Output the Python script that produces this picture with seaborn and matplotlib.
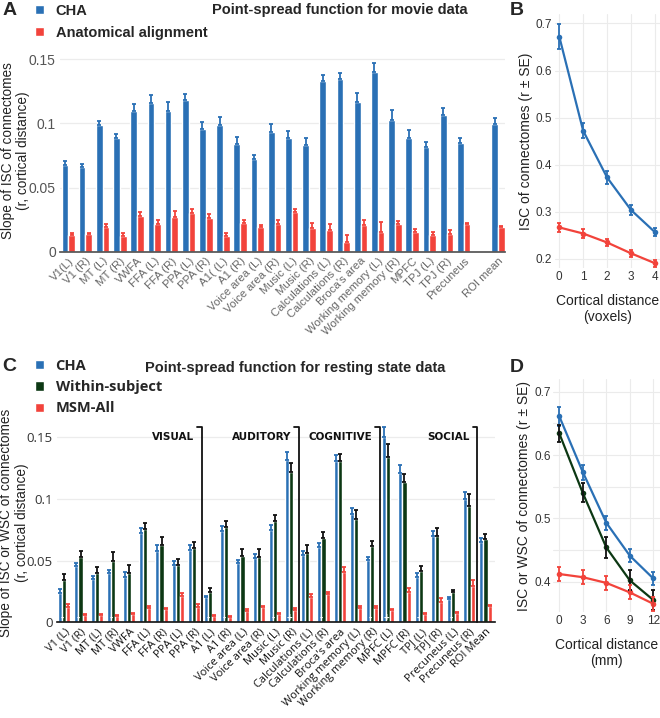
import numpy as np
import pandas as pd
import matplotlib
matplotlib.use("Agg")
import matplotlib.pyplot as plt
import seaborn as sns

# ---- panel A: point-spread slopes, movie data ----
movie_rois = ["V1(L)", "V1 (R)", "MT (L)", "MT (R)", "VWFA", "FFA (L)", "FFA (R)",
              "PPA (L)", "PPA (R)", "A1( (L)", "A1 (R)", "Voice area (L)", "Voice area (R)",
              "Music (L)", "Music (R)", "Calculations (L)", "Calculations (R)", "Broca's area",
              "Working memory (L)", "Working memory (R)", "MPFC", "TPJ (L)", "TPJ (R)",
              "Precuneus", "ROI mean"]
movie_cha = [0.0675, 0.066, 0.0985, 0.0886, 0.110, 0.116, 0.110, 0.118, 0.096, 0.099,
             0.084, 0.072, 0.093, 0.089, 0.083, 0.133, 0.135, 0.117, 0.140, 0.1026,
             0.0885, 0.082, 0.1065, 0.0844, 0.0992]
movie_cha_se = [0.0029, 0.0026, 0.0036, 0.0029, 0.0052, 0.0062, 0.0070, 0.0049, 0.0049, 0.0062,
                0.0052, 0.0036, 0.0065, 0.0052, 0.0055, 0.0044, 0.0047, 0.0065, 0.0073, 0.0078,
                0.0065, 0.0034, 0.0057, 0.0039, 0.0047]
movie_anat = [0.013, 0.0135, 0.019, 0.012, 0.0278, 0.022, 0.0268, 0.030, 0.0265, 0.012,
              0.0225, 0.019, 0.022, 0.0307, 0.0187, 0.0169, 0.0078, 0.0208, 0.0156, 0.0213,
              0.0156, 0.013, 0.0135, 0.0218, 0.0192]
movie_anat_se = [0.0013, 0.0013, 0.0023, 0.0026, 0.0029, 0.0026, 0.0049, 0.0031, 0.0026, 0.0029,
                 0.0021, 0.0016, 0.0031, 0.0023, 0.0034, 0.0047, 0.0052, 0.0039, 0.0078, 0.0026,
                 0.0023, 0.0026, 0.0031, 0.0008, 0.0010]

# ---- panel B: ISC vs cortical distance, movie data ----
voxel_dist = [0, 1, 2, 3, 4]
movie_isc_cha = [0.672, 0.472, 0.373, 0.304, 0.257]
movie_isc_cha_se = [0.027, 0.016, 0.013, 0.011, 0.008]
movie_isc_anat = [0.267, 0.254, 0.235, 0.212, 0.191]
movie_isc_anat_se = [0.010, 0.009, 0.008, 0.007, 0.007]

# ---- panel C: point-spread slopes, resting state data ----
rest_rois = ["V1 (L)", "V1 (R)", "MT (L)", "MT (R)", "VWFA", "FFA (L)", "FFA (R)",
             "PPA (L)", "PPA (R)", "A1 (L)", "A1 (R)", "Voice area (L)", "Voice area (R)",
             "Music (L)", "Music (R)", "Calculations (L)", "Calculations (R)", "Broca's area",
             "Working memory (L)", "Working memory (R)", "MPFC (L)", "MPFC (R)", "TPJ (L)",
             "TPJ (R)", "Precuneus (L)", "Precuneus (R)", "ROI Mean"]
rest_cha = [0.024, 0.0457, 0.0354, 0.0397, 0.0365, 0.0727, 0.058, 0.0465, 0.0586, 0.0203,
            0.0738, 0.0478, 0.0519, 0.0750, 0.1316, 0.0546, 0.0614, 0.1308, 0.0878, 0.0505,
            0.150, 0.1208, 0.037, 0.0703, 0.0192, 0.0997, 0.0649]
rest_cha_se = [0.0027, 0.0022, 0.0022, 0.0027, 0.0040, 0.0035, 0.0046, 0.0032, 0.0040, 0.0010,
               0.0046, 0.0027, 0.0035, 0.0040, 0.0068, 0.0035, 0.0027, 0.0049, 0.0046, 0.0027,
               0.0086, 0.0068, 0.0027, 0.0038, 0.0010, 0.0062, 0.0032]
rest_within = [0.0343, 0.053, 0.0397, 0.0497, 0.0397, 0.0754, 0.0627, 0.0465, 0.0605, 0.0243,
               0.077, 0.0538, 0.0527, 0.082, 0.122, 0.0565, 0.068, 0.1308, 0.0835, 0.0619,
               0.134, 0.1135, 0.0419, 0.0703, 0.0243, 0.0946, 0.0673]
rest_within_se = [0.0049, 0.0046, 0.0054, 0.0070, 0.0068, 0.0054, 0.0062, 0.0049, 0.0049, 0.0032,
                  0.0054, 0.0057, 0.0068, 0.0049, 0.0068, 0.0062, 0.0049, 0.0054, 0.0076, 0.0040,
                  0.0108, 0.0065, 0.0040, 0.0059, 0.0019, 0.0095, 0.0043]
rest_msm = [0.0127, 0.006, 0.006, 0.0051, 0.007, 0.0114, 0.0105, 0.0214, 0.0127, 0.0051,
            0.0046, 0.0095, 0.0124, 0.0068, 0.010, 0.0203, 0.0227, 0.0411, 0.0119, 0.0114,
            0.010, 0.0243, 0.0065, 0.0168, 0.0078, 0.0297, 0.0135]
rest_msm_se = [0.0019, 0.0008, 0.0008, 0.0008, 0.0008, 0.0019, 0.0013, 0.0022, 0.0019, 0.0008,
               0.0008, 0.0011, 0.0011, 0.0010, 0.0015, 0.0027, 0.0016, 0.0040, 0.0016, 0.0022,
               0.0011, 0.0032, 0.0008, 0.0027, 0.0008, 0.0046, 0.0008]
# white +/- markers at the foot of some bars
sign_rois = ["V1 (L)", "V1 (R)", "MT (R)", "A1 (L)", "A1 (R)", "Music (L)", "Music (R)",
             "Calculations (R)", "Working memory (R)", "MPFC (L)", "TPJ (L)", "Precuneus (L)"]
sign_marks = ["-", "-", "-", "-", "-", "-", "+", "-", "-", "+", "-", "-"]
# network brackets
network_names = ["VISUAL", "AUDITORY", "COGNITIVE", "SOCIAL"]
network_last_roi = ["PPA (R)", "Music (R)", "Working memory (R)", "Precuneus (R)"]

# ---- panel D: ISC/WSC vs cortical distance, resting state ----
mm_dist = [0, 3, 6, 9, 12]
rest_isc_cha = [0.661, 0.573, 0.493, 0.441, 0.405]
rest_isc_cha_se = [0.015, 0.012, 0.011, 0.010, 0.010]
rest_isc_within = [0.634, 0.540, 0.454, 0.402, 0.371]
rest_isc_within_se = [0.014, 0.015, 0.016, 0.016, 0.016]
rest_isc_msm = [0.412, 0.407, 0.398, 0.383, 0.365]
rest_isc_msm_se = [0.011, 0.011, 0.011, 0.011, 0.011]

BLUE = "#2a70b5"
RED = "#f2433b"
GREEN = "#0c3813"

sns.set_theme(style="white")
plt.rcParams["font.family"] = ["Liberation Sans", "DejaVu Sans"]

fig = plt.figure(figsize=(6.6, 7.18), dpi=100)
axA = fig.add_axes([0.0909, 0.6494, 0.6742, 0.2716])
axB = fig.add_axes([0.8409, 0.6262, 0.1586, 0.3542])
axC = fig.add_axes([0.0864, 0.1333, 0.6639, 0.2783])
axD = fig.add_axes([0.8383, 0.1476, 0.1610, 0.3245])


def bar_errors(ax, df, order, hue_order, colors):
    # one-sided (upward) error bars on top of the seaborn bars
    se = df.set_index(["roi", "method"])["se"]
    for cont, hue, col in zip(ax.containers, hue_order, colors):
        xs, ys, es = [], [], []
        for p in cont.patches:
            xc = p.get_x() + p.get_width() / 2
            roi = order[int(round(xc))]
            if (roi, hue) not in se.index:
                continue
            xs.append(xc)
            ys.append(p.get_height())
            es.append(se[(roi, hue)])
        ax.errorbar(xs, ys, yerr=[np.zeros(len(es)), es], fmt="none", ecolor=col,
                    elinewidth=1.3, capsize=1.6, capthick=1.3, zorder=3)


# ---------------- A ----------------
n = len(movie_rois)
movie_df = pd.DataFrame({
    "roi": movie_rois * 2,
    "method": ["CHA"] * n + ["Anatomical alignment"] * n,
    "slope": movie_cha + movie_anat,
    "se": movie_cha_se + movie_anat_se,
})
movie_order = movie_rois[:-1] + [" "] + movie_rois[-1:]
hueA = ["CHA", "Anatomical alignment"]
sns.barplot(data=movie_df, x="roi", y="slope", hue="method", order=movie_order,
            hue_order=hueA, palette=[BLUE, RED], saturation=1, width=0.78,
            errorbar=None, ax=axA)
bar_errors(axA, movie_df, movie_order, hueA, [BLUE, RED])
axA.set_xlim(-0.48, 25.4)
axA.set_ylim(0, 0.152)
axA.set_yticks([0, 0.05, 0.1, 0.15])
axA.set_yticklabels(["0", "0.05", "0.1", "0.15"], fontsize=10, color="#555555")
axA.tick_params(axis="both", length=0, pad=3)
plt.setp(axA.get_xticklabels(), rotation=45, ha="right", rotation_mode="anchor",
         fontsize=8.2, color="#666666")
axA.grid(axis="y", color="#ececec", lw=0.9)
axA.set_axisbelow(True)
sns.despine(ax=axA, left=True)
axA.spines["bottom"].set_color("#555555")
axA.set_xlabel("")
axA.set_ylabel("Slope of ISC of connectomes\n(r, cortical distance)", fontsize=9.8,
               color="#222222", linespacing=1.15)
axA.yaxis.set_label_coords(-0.067, 0.52)
sns.move_legend(axA, "upper left", bbox_to_anchor=(0.04, 1.007), bbox_transform=fig.transFigure,
                frameon=False, title=None, prop={"weight": "bold", "size": 10.5},
                handlelength=0.6, handleheight=0.6, handletextpad=0.8, labelspacing=0.55,
                borderpad=0.1)
fig.text(0.515, 0.986, "Point-spread function for movie data", ha="center", va="center",
         fontsize=10.5, fontweight="bold")

# ---------------- B ----------------
movie_line_df = pd.DataFrame({
    "dist": voxel_dist * 2,
    "isc": movie_isc_cha + movie_isc_anat,
    "se": movie_isc_cha_se + movie_isc_anat_se,
    "method": ["CHA"] * 5 + ["Anatomical alignment"] * 5,
})
sns.lineplot(data=movie_line_df, x="dist", y="isc", hue="method", hue_order=hueA,
             palette=[BLUE, RED], marker="o", markersize=4, markeredgewidth=0,
             linewidth=1.6, errorbar=None, legend=False, ax=axB)
for hue, col in zip(hueA, [BLUE, RED]):
    sub = movie_line_df[movie_line_df["method"] == hue]
    axB.errorbar(sub["dist"], sub["isc"], yerr=sub["se"], fmt="none", ecolor=col,
                 elinewidth=1.3, capsize=1.6, capthick=1.3)
axB.set_xlim(-0.18, 4.2)
axB.set_ylim(0.18, 0.72)
axB.set_xticks(voxel_dist)
axB.set_yticks([0.2, 0.3, 0.4, 0.5, 0.6, 0.7])
axB.set_yticklabels(["0.2", "0.3", "0.4", "0.5", "0.6", "0.7"])
axB.tick_params(axis="both", length=0, pad=2, labelsize=8.5, labelcolor="#333333")
axB.grid(True, color="#ebebeb", lw=0.8)
sns.despine(ax=axB, left=True, bottom=True)
axB.set_xlabel("Cortical distance\n(voxels)", fontsize=10, color="#222222", labelpad=8)
axB.set_ylabel("ISC of connectomes (r \u00b1 SE)", fontsize=10, color="#222222", labelpad=2)

# ---------------- C ----------------
m = len(rest_rois)
hueC = ["CHA", "Within-subject", "MSM-All"]
rest_df = pd.DataFrame({
    "roi": rest_rois * 3,
    "method": ["CHA"] * m + ["Within-subject"] * m + ["MSM-All"] * m,
    "slope": rest_cha + rest_within + rest_msm,
    "se": rest_cha_se + rest_within_se + rest_msm_se,
})
sns.barplot(data=rest_df, x="roi", y="slope", hue="method", order=rest_rois,
            hue_order=hueC, palette=[BLUE, GREEN, RED], saturation=1, width=0.75,
            errorbar=None, ax=axC)
bar_errors(axC, rest_df, rest_rois, hueC, [BLUE, "#111111", RED])
axC.set_xlim(-0.45, 26.6)
axC.set_ylim(0, 0.162)
axC.set_yticks([0, 0.05, 0.1, 0.15])
axC.set_yticklabels(["0", "0.05", "0.1", "0.15"], fontsize=9.5, color="#333333",
                    family=["Open Sans", "DejaVu Sans"])
axC.tick_params(axis="both", length=0, pad=3)
plt.setp(axC.get_xticklabels(), rotation=45, ha="right", rotation_mode="anchor",
         fontsize=8, color="#111111", family=["Open Sans", "DejaVu Sans"])
axC.grid(axis="y", color="#ececec", lw=0.9)
axC.set_axisbelow(True)
sns.despine(ax=axC, left=True)
axC.spines["bottom"].set_color("#111111")
axC.spines["bottom"].set_linewidth(1.2)
axC.set_xlabel("")
axC.set_ylabel("Slope of ISC or WSC of connectomes\n(r, cortical distance)", fontsize=9.8,
               color="#222222", linespacing=1.15)
axC.yaxis.set_label_coords(-0.064, 0.5)
sns.move_legend(axC, "upper left", bbox_to_anchor=(0.04, 0.5125), bbox_transform=fig.transFigure,
                frameon=False, title=None,
                prop={"weight": "bold", "size": 10.5, "family": ["Open Sans", "DejaVu Sans"]},
                handlelength=0.6, handleheight=0.6, handletextpad=0.8, labelspacing=0.5,
                borderpad=0.1)
fig.text(0.448, 0.4875, "Point-spread function for resting state data", ha="center",
         va="center", fontsize=10.5, fontweight="bold")

# network brackets
for name, last in zip(network_names, network_last_roi):
    xb = rest_rois.index(last) + 0.5
    axC.plot([xb - 0.3, xb, xb], [0.158, 0.158, 0], color="#111111", lw=1.3,
             clip_on=False, zorder=4)
    axC.text(xb - 0.5, 0.1505, name, ha="right", va="center", fontsize=7.5,
             fontweight="bold", family="DejaVu Sans", color="#111111")

# significance marks
for roi, mark in zip(sign_rois, sign_marks):
    xi = rest_rois.index(roi) - 0.13
    axC.text(xi, 0.0035, mark, ha="center", va="center", color="white", fontsize=7,
             fontweight="bold", zorder=5)

# ---------------- D ----------------
rest_line_df = pd.DataFrame({
    "dist": mm_dist * 3,
    "isc": rest_isc_cha + rest_isc_within + rest_isc_msm,
    "se": rest_isc_cha_se + rest_isc_within_se + rest_isc_msm_se,
    "method": ["CHA"] * 5 + ["Within-subject"] * 5 + ["MSM-All"] * 5,
})
sns.lineplot(data=rest_line_df, x="dist", y="isc", hue="method", hue_order=hueC,
             palette=[BLUE, GREEN, RED], marker="o", markersize=4, markeredgewidth=0,
             linewidth=1.6, errorbar=None, legend=False, ax=axD)
for hue, col in zip(hueC, [BLUE, "#111111", RED]):
    sub = rest_line_df[rest_line_df["method"] == hue]
    axD.errorbar(sub["dist"], sub["isc"], yerr=sub["se"], fmt="none", ecolor=col,
                 elinewidth=1.3, capsize=1.6, capthick=1.3)
axD.set_xlim(-0.77, 12.8)
axD.set_ylim(0.352, 0.72)
axD.set_xticks(mm_dist)
axD.set_yticks([0.4, 0.5, 0.6, 0.7])
axD.set_yticklabels(["0.4", "0.5", "0.6", "0.7"])
axD.set_yticks([0.45, 0.55, 0.65], minor=True)
axD.tick_params(axis="both", which="both", length=0, pad=2, labelsize=8.5, labelcolor="#333333")
axD.grid(True, which="both", color="#ebebeb", lw=0.8)
sns.despine(ax=axD, left=True, bottom=True)
axD.set_xlabel("Cortical distance\n(mm)", fontsize=10, color="#222222", labelpad=8)
axD.set_ylabel("ISC or WSC of connectomes (r \u00b1 SE)", fontsize=10, color="#222222",
               labelpad=2)

# panel letters
for lx, ly, letter in [(0.004, 0.985, "A"), (0.772, 0.985, "B"), (0.004, 0.49, "C"),
                       (0.772, 0.488, "D")]:
    fig.text(lx, ly, letter, fontsize=14, fontweight="bold", va="center")

fig.savefig("out.png", dpi=100)
